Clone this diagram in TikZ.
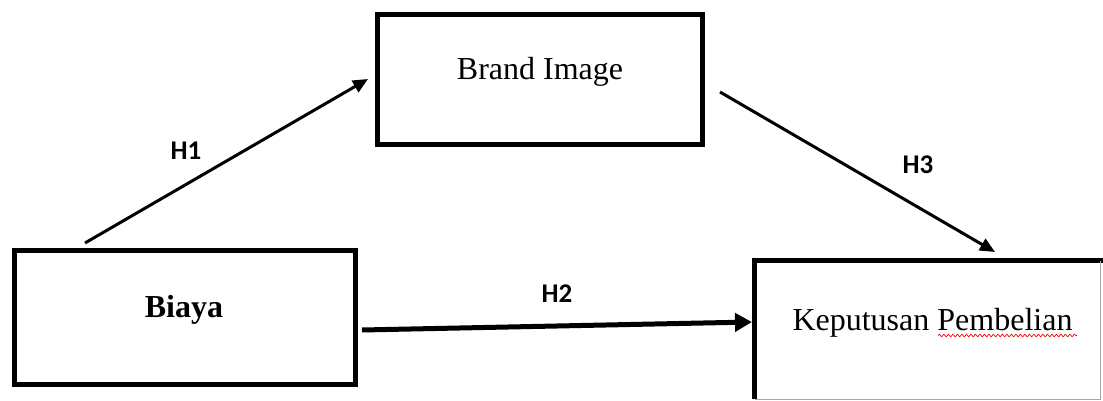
\documentclass[tikz,border=0pt]{standalone}
\usepackage{fontspec}
\setmainfont{Liberation Serif}
\newfontfamily\hfont{Carlito}
\usetikzlibrary{arrows.meta,decorations.pathmorphing}
\begin{document}
\begin{tikzpicture}[x=1pt,y=-1pt,
  boxstyle/.style={draw=black,line width=5pt,inner sep=0pt,outer sep=0pt},
  boxtext/.style={font=\fontsize{32}{36}\selectfont,anchor=base,inner sep=0pt},
  hlabel/.style={font=\hfont\bfseries\fontsize{27}{30}\selectfont,anchor=base,inner sep=0pt},
  thinarrow/.style={line width=3pt,-{Triangle[length=15pt,width=13pt]}},
  thickarrow/.style={line width=5pt,-{Triangle[length=17pt,width=18pt]}}]
\useasboundingbox (0,0) rectangle (1103,401);
\fill[white] (0,0) rectangle (1103,401);
% boxes
\node[boxstyle,minimum width=341pt,minimum height=134pt] (biaya) at (185,317.5) {};
\node[boxstyle,minimum width=325pt,minimum height=130pt] (brand) at (540,79.5) {};
\node[inner sep=0pt,outer sep=0pt,minimum width=345.5pt,minimum height=138.5pt] (kp) at (927.25,329.75) {};
\draw[line width=5pt] (kp.south west) -- (kp.north west) -- ([xshift=2.5pt]kp.north east);
\draw[line width=0.8pt,gray!70] (kp.north east) -- (kp.south east) -- (kp.south west);
% texts
\node[boxtext] (tbiaya) at (184,317) {\bfseries Biaya};
\node[boxtext] (tbrand) at (540,80) {Brand Image};
\node[boxtext] (tkp) at (932.5,330) {Keputusan Pembelian};
\draw[red,line width=0.7pt,decorate,decoration={snake,amplitude=1.3pt,segment length=4.5pt}] (938,335.5) -- (1077,335.5);
% connectors
\coordinate (h1s) at (85,243);
\coordinate (h1e) at (368,79);
\coordinate (h3s) at (720,92);
\coordinate (h3e) at (995,252);
\coordinate (h2s) at (362,330);
\coordinate (h2e) at (752,322);
\draw[thinarrow] (h1s) -- (h1e);
\draw[thinarrow] (h3s) -- (h3e);
\draw[thickarrow] (h2s) -- (h2e);
% labels
\node[hlabel] (l1) at (186,160) {H1};
\node[hlabel] (l2) at (557,302) {H2};
\node[hlabel] (l3) at (918,173) {H3};
\end{tikzpicture}
\end{document}
